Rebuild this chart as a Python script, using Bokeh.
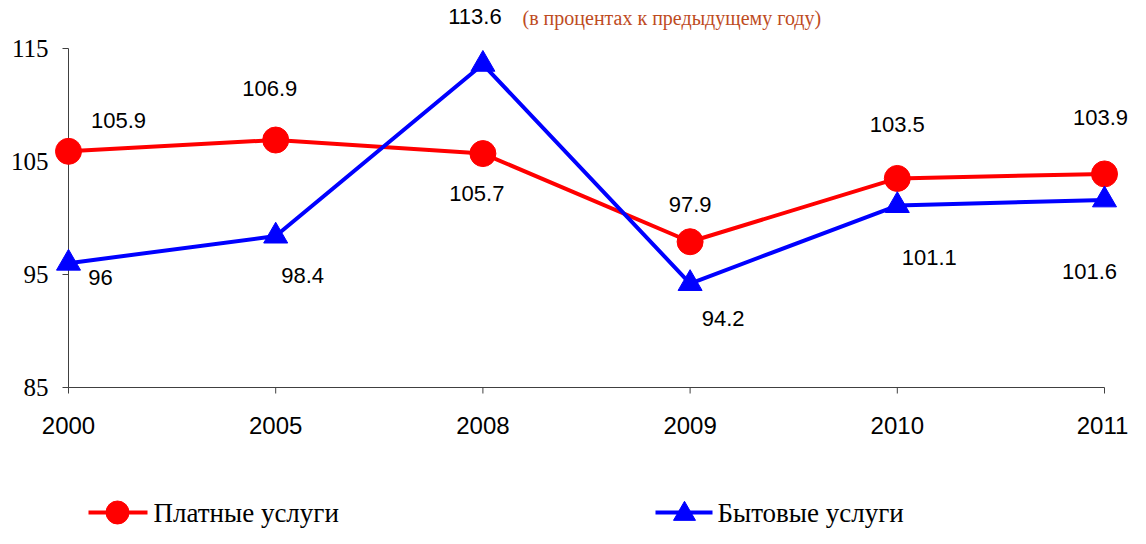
import math
from bokeh.plotting import figure
from bokeh.models import Range1d
from bokeh.core.properties import value
from bokeh.embed import file_html
from bokeh.resources import INLINE

# ---- data ----
years = ["2000", "2005", "2008", "2009", "2010", "2011"]
paid = [105.9, 106.9, 105.7, 97.9, 103.5, 103.9]
household = [96, 98.4, 113.6, 94.2, 101.1, 101.6]
y_ticks = [85, 95, 105, 115]
y_tick_labels = ["85", "95", "105", "115"]
title_text = "(в процентах к предыдущему году)"
name_paid = "Платные услуги"
name_household = "Бытовые услуги"

# ---- layout (canvas pixels) ----
W, H = 1130, 528
X0_PX, X5_PX = 68, 1104      # first / last category
Y115_PX, Y85_PX = 48, 387    # 115 / 85
xs = (X5_PX - X0_PX) / 5.0
ys = (Y85_PX - Y115_PX) / 30.0
x_start = -X0_PX / xs
x_end = 5 + (W - X5_PX) / xs
y_end = 115 + Y115_PX / ys
y_start = 85 - (H - Y85_PX) / ys


def px_x(px):
    """canvas pixel x -> data x"""
    return x_start + px / xs


def px_y(py):
    """canvas pixel y -> data y"""
    return y_end - py / ys


x = list(range(len(years)))

RED = "#FF0000"
BLUE = "#0000FF"
AXIS = "#404040"
SANS = value("Liberation Sans")
SERIF = value("Liberation Serif")

p = figure(width=W, height=H, output_backend="svg", toolbar_location=None,
           x_axis_type=None, y_axis_type=None,
           x_range=Range1d(x_start, x_end), y_range=Range1d(y_start, y_end),
           min_border=0)
p.outline_line_color = None
p.grid.visible = False
p.background_fill_color = "white"
p.border_fill_color = "white"

# axes
p.segment(x0=[0], y0=[85], x1=[0], y1=[115], line_color=AXIS, line_width=1)
p.segment(x0=[0], y0=[85], x1=[5], y1=[85], line_color=AXIS, line_width=1)
p.ray(x=[0] * len(y_ticks), y=y_ticks, length=6, length_units="screen",
      angle=math.pi, line_color=AXIS, line_width=1)
p.ray(x=x, y=[85] * len(x), length=6, length_units="screen",
      angle=-math.pi / 2, line_color=AXIS, line_width=1)
p.text(x=[0] * len(y_ticks), y=y_ticks, text=y_tick_labels, x_offset=-20,
       text_align="right", text_baseline="middle", text_font=SERIF,
       text_font_size="25px", text_color="black")
p.text(x=x, y=[85] * len(x), text=years, y_offset=38, x_offset=[0] * 5 + [-2],
       text_align="center", text_baseline="middle", text_font=SANS,
       text_font_size="24px", text_color="black")

# title (moved so that it is fully visible and clear of the 113.6 label)
p.text(x=[px_x(522)], y=[px_y(17)], text=[title_text], text_align="left",
       text_baseline="middle", text_font=SERIF, text_font_size="20px",
       text_color="#BE4B1E")

# series
p.line(x, paid, line_color=RED, line_width=4)
p.line(x, household, line_color=BLUE, line_width=4)
p.scatter(x, paid, marker="circle", size=26, fill_color=RED, line_color=RED)
p.scatter(x, household, marker="triangle", size=24, fill_color=BLUE,
          line_color=BLUE)

# value labels
paid_dx = [50, -6, -6, 0, 0, -4]
paid_dy = [-31, -52, 40, -37, -54, -56]
house_dx = [32, 27, -8, 33, 32, -15]
house_dy = [14, 39, -48, 35, 52, 72]
p.text(x=x, y=paid, text=[str(v) for v in paid], x_offset=paid_dx,
       y_offset=paid_dy, text_align="center", text_baseline="middle",
       text_font=SANS, text_font_size="22px", text_color="black")
p.text(x=x, y=household, text=[f"{v:g}" for v in household],
       x_offset=house_dx, y_offset=house_dy, text_align="center",
       text_baseline="middle", text_font=SANS, text_font_size="22px",
       text_color="black")

# legend (drawn manually)
ly = px_y(512)
ty = px_y(512)
p.segment(x0=[px_x(88)], y0=[ly], x1=[px_x(147)], y1=[ly], line_color=RED,
          line_width=4)
p.scatter([px_x(117)], [ly], marker="circle", size=23, fill_color=RED,
          line_color=RED)
p.text(x=[px_x(153)], y=[ty], text=[name_paid], text_align="left",
       text_baseline="middle", text_font=SERIF, text_font_size="27px",
       text_color="black")
p.segment(x0=[px_x(655)], y0=[ly], x1=[px_x(712)], y1=[ly], line_color=BLUE,
          line_width=4)
p.scatter([px_x(684)], [ly - 1.5 / ys], marker="triangle", size=22,
          fill_color=BLUE, line_color=BLUE)
p.text(x=[px_x(717)], y=[ty], text=[name_household],
       text_align="left", text_baseline="middle", text_font=SERIF,
       text_font_size="27px", text_color="black")

open("out.html", "w").write(file_html(p, INLINE))
